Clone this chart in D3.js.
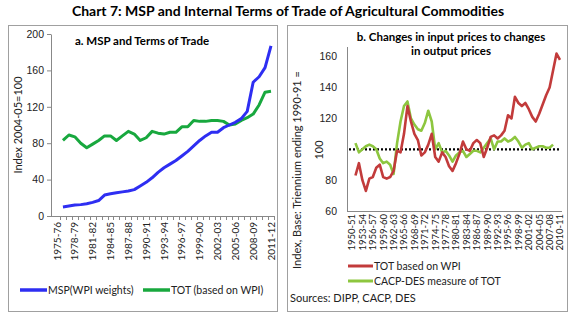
<!DOCTYPE html>
<html>
<head>
<meta charset="utf-8">
<script src="https://cdn.jsdelivr.net/npm/d3@7"></script>
<style>
  body { margin: 0; background: #fff; }
  svg { font-family: Lato, "Open Sans", sans-serif; }
</style>
</head>
<body>
<svg id="chart" width="576" height="321"></svg>
<script>
// ---- data: panel a (1975-76 .. 2011-12, series start 1976-77)
const yearsA = d3.range(1975, 2012).map(y => y + "-" + String((y + 1) % 100).padStart(2, "0"));
const mspWpi = [10, 11, 12, 12.5, 13.5, 15, 17, 23, 24.5, 25.5, 26.5, 27.5, 29, 33, 37, 42, 48, 53,
  57, 61, 66, 71, 77, 83, 88, 92, 92, 97, 100, 103, 107, 115, 147, 153, 163, 187];
const totWpiA = [83, 89, 87, 80, 75, 79, 83, 88, 88, 83, 88, 93, 90, 83, 86, 93, 91, 90,
  92, 92, 98, 98, 105, 104, 104, 105, 105, 104, 100, 101, 105, 108, 112, 122, 136, 137];
const ticksA = [0, 40, 80, 120, 160, 200];

// ---- data: panel b (1950-51 .. 2010-11, series start 1951-52)
const yearsB = d3.range(1950, 2011).map(y => y + "-" + String((y + 1) % 100).padStart(2, "0"));
const totWpiB = [83, 91, 80, 73, 81, 82, 88, 90, 82, 81, 82, 86, 99, 98, 110, 128, 118, 110, 106, 96,
  98, 103, 110, 95, 92, 98, 95, 89, 86, 91, 97, 105, 100, 99, 104, 106, 104, 95, 101, 108,
  109, 107, 109, 112, 122, 120, 134, 130, 128, 130, 126, 121, 118, 123, 129, 135, 140, 151, 162, 158];
const cacpDes = [104, 98, 100, 102, 103, 102, 100, 94, 91, 92, 90, 84, 104, 118, 128, 131, 120, 116, 113, 112,
  117, 125, 118, 100, 104, 98, 99, 96, 92, 96, 98, 99, 95, 97, 99, 99, 98, 101, 104, 107,
  100, 105, 105, 107, 105, 106, 108, 105, 101, 103, 104, 100, 101, 102, 102, 101, 101, 103];
const ticksB = [60, 80, 100, 120, 140, 160];

const svg = d3.select("#chart");

// title
svg.append("text")
  .attr("x", 288).attr("y", 16)
  .attr("text-anchor", "middle")
  .attr("font-size", 14).attr("font-weight", "bold")
  .text("Chart 7: MSP and Internal Terms of Trade of Agricultural Commodities");

// panel frames
svg.append("rect").attr("x", 8.5).attr("y", 25.5).attr("width", 269).attr("height", 286)
  .attr("fill", "none").attr("stroke", "#a0a0a0");
svg.append("rect").attr("x", 287.5).attr("y", 25.5).attr("width", 280).attr("height", 286)
  .attr("fill", "none").attr("stroke", "#a0a0a0");

// ================= panel a =================
const xA = d3.scalePoint().domain(yearsA).range([57, 271]);
const yA = d3.scaleLinear().domain([0, 200]).range([216, 34]);
const stepA = xA.step();

const gA = svg.append("g");

// y axis
gA.append("g")
  .attr("transform", "translate(51,0)")
  .call(d3.axisLeft(yA).tickValues(ticksA).tickSize(4).tickSizeOuter(0))
  .call(g => g.select(".domain").attr("stroke", "#888"))
  .call(g => g.selectAll(".tick line").attr("stroke", "#888"))
  .call(g => g.selectAll(".tick text").attr("font-size", 10.5).attr("fill", "#222")
    .attr("font-family", "'Liberation Sans', Arial, sans-serif"));

// x axis
gA.append("line").attr("x1", 51).attr("x2", 274).attr("y1", 216.5).attr("y2", 216.5).attr("stroke", "#888");
gA.selectAll(".xtickA").data(yearsA).join("line")
  .attr("x1", d => Math.round(xA(d) + stepA / 2) + 0.5)
  .attr("x2", d => Math.round(xA(d) + stepA / 2) + 0.5)
  .attr("y1", 216).attr("y2", 220).attr("stroke", "#888");
gA.selectAll(".xlabA").data(yearsA.filter((d, i) => i % 3 === 0)).join("text")
  .attr("transform", d => `translate(${xA(d)},222) rotate(-90)`)
  .attr("text-anchor", "end").attr("dy", "0.35em")
  .attr("font-size", 10).attr("fill", "#222")
  .text(d => d);

// y title
gA.append("text")
  .attr("transform", "translate(18,125) rotate(-90)")
  .attr("text-anchor", "middle").attr("dy", "0.35em")
  .attr("font-size", 11).attr("fill", "#222")
  .text("Index 2004-05=100");

// subtitle
gA.append("text").attr("x", 142).attr("y", 45).attr("text-anchor", "middle")
  .attr("font-size", 11.5).attr("font-weight", "bold").text("a. MSP and Terms of Trade");

const lineA = d3.line().x((d, i) => xA(yearsA[i + 1])).y(d => yA(d));
gA.append("path").attr("d", lineA(totWpiA)).attr("fill", "none")
  .attr("stroke", "#18a83e").attr("stroke-width", 3).attr("stroke-linejoin", "round");
gA.append("path").attr("d", lineA(mspWpi)).attr("fill", "none")
  .attr("stroke", "#2e2ef2").attr("stroke-width", 3).attr("stroke-linejoin", "round");

// legend a
const legA = [
  {label: "MSP(WPI weights)", color: "#2e2ef2", x: 20},
  {label: "TOT (based on WPI)", color: "#18a83e", x: 143}
];
legA.forEach(l => {
  gA.append("line").attr("x1", l.x).attr("x2", l.x + 27).attr("y1", 290).attr("y2", 290)
    .attr("stroke", l.color).attr("stroke-width", 3.5);
  gA.append("text").attr("x", l.x + 28).attr("y", 290).attr("dy", "0.35em")
    .attr("font-size", 10.5).attr("fill", "#222").text(l.label);
});

// ================= panel b =================
const xB = d3.scalePoint().domain(yearsB).range([352, 560]);
const yB = d3.scaleLinear().domain([60, 160]).range([211, 56.7]);
const gB = svg.append("g");

gB.append("line").attr("x1", 347.5).attr("x2", 347.5).attr("y1", 47).attr("y2", 211).attr("stroke", "#888");
gB.append("line").attr("x1", 347).attr("x2", 562).attr("y1", 211.5).attr("y2", 211.5).attr("stroke", "#888");
gB.selectAll(".ylabB").data(ticksB.filter(d => d !== 100)).join("text")
  .attr("x", 337).attr("y", d => yB(d)).attr("dy", "0.35em")
  .attr("text-anchor", "end").attr("font-size", 10.5).attr("fill", "#222")
  .attr("font-family", "'Liberation Sans', Arial, sans-serif")
  .text(d => d);

gB.selectAll(".xlabB").data(yearsB.filter((d, i) => i % 3 === 0)).join("text")
  .attr("transform", d => `translate(${xB(d)},214) rotate(-90)`)
  .attr("text-anchor", "end").attr("dy", "0.35em")
  .attr("font-size", 9.5).attr("fill", "#222")
  .text(d => d);

// y title (two lines)
gB.append("text")
  .attr("transform", "translate(297,170) rotate(-90)")
  .attr("text-anchor", "middle").attr("dy", "0.35em")
  .attr("font-size", 11).attr("fill", "#222")
  .text("Index, Base: Triennium ending 1990-91 =");
gB.append("text")
  .attr("transform", "translate(319,150) rotate(-90)")
  .attr("text-anchor", "middle").attr("dy", "0.35em")
  .attr("font-size", 11).attr("fill", "#222")
  .text("100");

// subtitle
gB.append("text").attr("x", 451).attr("y", 41).attr("text-anchor", "middle")
  .attr("font-size", 11.5).attr("font-weight", "bold").text("b. Changes in input prices to changes");
gB.append("text").attr("x", 451).attr("y", 55).attr("text-anchor", "middle")
  .attr("font-size", 11.5).attr("font-weight", "bold").text("in output prices");

// base line at 100
gB.append("line").attr("x1", 349).attr("x2", 560).attr("y1", yB(100)).attr("y2", yB(100))
  .attr("stroke", "#000").attr("stroke-width", 2.2).attr("stroke-dasharray", "2,2");

const lineB = d3.line().x((d, i) => xB(yearsB[i + 1])).y(d => yB(d));
gB.append("path").attr("d", lineB(cacpDes)).attr("fill", "none")
  .attr("stroke", "#8dc63f").attr("stroke-width", 2.6).attr("stroke-linejoin", "round");
gB.append("path").attr("d", lineB(totWpiB)).attr("fill", "none")
  .attr("stroke", "#c23b3b").attr("stroke-width", 2.6).attr("stroke-linejoin", "round");

// legend b
const legB = [
  {label: "TOT based on WPI", color: "#c23b3b", y: 266},
  {label: "CACP-DES measure of TOT", color: "#8dc63f", y: 281}
];
legB.forEach(l => {
  gB.append("line").attr("x1", 348).attr("x2", 373).attr("y1", l.y).attr("y2", l.y)
    .attr("stroke", l.color).attr("stroke-width", 3);
  gB.append("text").attr("x", 374).attr("y", l.y).attr("dy", "0.35em")
    .attr("font-size", 10.5).attr("fill", "#222").text(l.label);
});
gB.append("text").attr("x", 290).attr("y", 298).attr("dy", "0.35em")
  .attr("font-size", 11).attr("fill", "#222").text("Sources: DIPP, CACP, DES");
</script>
</body>
</html>
